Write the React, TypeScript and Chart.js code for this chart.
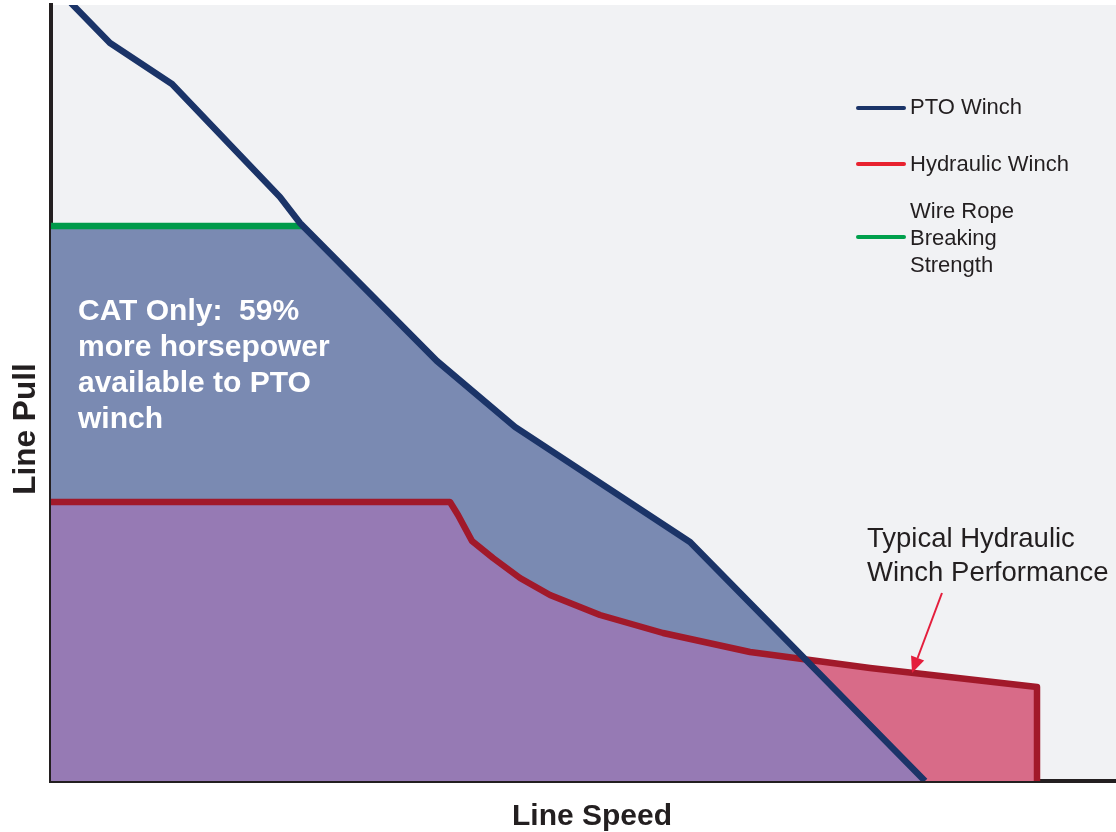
import React, { useEffect, useRef } from "react";
import { Chart, registerables } from "chart.js";

Chart.register(...registerables);

// ---- Data (x = line speed, y = line pull, arbitrary units) ----
const ptoWinch = [
  { x: 20, y: 778 },
  { x: 59, y: 738 },
  { x: 121, y: 697 },
  { x: 184, y: 631 },
  { x: 229, y: 584 },
  { x: 249, y: 558 },
  { x: 386, y: 420 },
  { x: 464, y: 354 },
  { x: 639, y: 239 },
  { x: 874, y: 0 },
];

const hydraulicWinch = [
  { x: 0, y: 279 },
  { x: 399, y: 279 },
  { x: 407, y: 266 },
  { x: 421, y: 240 },
  { x: 442, y: 223 },
  { x: 469, y: 203 },
  { x: 499, y: 186 },
  { x: 549, y: 166 },
  { x: 612, y: 148 },
  { x: 699, y: 129 },
  { x: 819, y: 113 },
  { x: 986, y: 94 },
  { x: 986, y: 0 },
];

const wireRopeBreaking = [
  { x: 0, y: 555 },
  { x: 252, y: 555 },
];

// where the PTO and hydraulic curves cross
const crossingPoint = { x: 754, y: 122 };

// arrow of the "Typical Hydraulic Winch Performance" note (data coords)
const arrowFrom = { x: 891, y: 188 };
const arrowTo = { x: 861, y: 108 };

const xRange = [0, 1065];
const yRange = [0, 776];

const seriesLabels = ["PTO Winch", "Hydraulic Winch", "Wire Rope Breaking Strength"];
const legendTextLines = [["PTO Winch"], ["Hydraulic Winch"], ["Wire Rope", "Breaking", "Strength"]];
const calloutLines = ["CAT Only:  59%", "more horsepower", "available to PTO", "winch"];
const noteLines = ["Typical Hydraulic", "Winch Performance"];
const xAxisTitle = "Line Speed";
const yAxisTitle = "Line Pull";

const COLORS = {
  bg: "#f1f2f4",
  navy: "#1b3468",
  red: "#a1192a",
  green: "#009a4a",
  blueFill: "#7a8ab2",
  purpleFill: "#967ab4",
  pinkFill: "#d86b88",
  text: "#231f20",
  legendRed: "#e8222f",
  legendGreen: "#00a04c",
  arrow: "#e41e3c",
};

const FONT = "'Liberation Sans', Arial, Helvetica, sans-serif";

const decorPlugin = {
  id: "decor",
  beforeDraw(chart: any) {
    const { ctx, chartArea } = chart;
    ctx.save();
    ctx.fillStyle = COLORS.bg;
    ctx.fillRect(chartArea.left, chartArea.top, chartArea.right - chartArea.left, chartArea.bottom - chartArea.top);
    ctx.restore();
  },
  afterDraw(chart: any) {
    const { ctx } = chart;
    const xs = chart.scales.x;
    const ys = chart.scales.y;
    ctx.save();

    // callout text
    ctx.fillStyle = "#ffffff";
    ctx.font = `bold 30px ${FONT}`;
    ctx.textAlign = "left";
    ctx.textBaseline = "alphabetic";
    calloutLines.forEach((t, i) => ctx.fillText(t, 78, 320 + i * 36));

    // legend
    const legendColors = [COLORS.navy, COLORS.legendRed, COLORS.legendGreen];
    const legendLineY = [108, 164, 237];
    const legendBaselines = [[114], [171], [218, 245, 272]];
    ctx.lineCap = "round";
    legendTextLines.forEach((lines, i) => {
      ctx.strokeStyle = legendColors[i];
      ctx.lineWidth = 4;
      ctx.beginPath();
      ctx.moveTo(858, legendLineY[i]);
      ctx.lineTo(904, legendLineY[i]);
      ctx.stroke();
      ctx.fillStyle = COLORS.text;
      ctx.font = `22px ${FONT}`;
      lines.forEach((t, j) => ctx.fillText(t, 910, legendBaselines[i][j]));
    });

    // note + arrow
    ctx.fillStyle = COLORS.text;
    ctx.font = `27.5px ${FONT}`;
    noteLines.forEach((t, i) => ctx.fillText(t, 867, 547 + i * 34));

    const fx = xs.getPixelForValue(arrowFrom.x);
    const fy = ys.getPixelForValue(arrowFrom.y);
    const tx = xs.getPixelForValue(arrowTo.x);
    const ty = ys.getPixelForValue(arrowTo.y);
    const ang = Math.atan2(ty - fy, tx - fx);
    const headLen = 16;
    const headHalf = 7;
    const bx = tx - headLen * Math.cos(ang);
    const by = ty - headLen * Math.sin(ang);
    ctx.strokeStyle = COLORS.arrow;
    ctx.lineWidth = 2;
    ctx.lineCap = "butt";
    ctx.beginPath();
    ctx.moveTo(fx, fy);
    ctx.lineTo(bx, by);
    ctx.stroke();
    ctx.fillStyle = COLORS.arrow;
    ctx.beginPath();
    ctx.moveTo(tx, ty);
    ctx.lineTo(bx + headHalf * Math.sin(ang), by - headHalf * Math.cos(ang));
    ctx.lineTo(bx - headHalf * Math.sin(ang), by + headHalf * Math.cos(ang));
    ctx.closePath();
    ctx.fill();

    // axis titles
    ctx.fillStyle = COLORS.text;
    ctx.font = `bold 30px ${FONT}`;
    ctx.textAlign = "center";
    ctx.fillText(xAxisTitle, 592, 825);
    ctx.save();
    ctx.translate(35, 429);
    ctx.rotate(-Math.PI / 2);
    ctx.font = `bold 31.5px ${FONT}`;
    ctx.fillText(yAxisTitle, 0, 0);
    ctx.restore();

    ctx.restore();
  },
};

export default function App() {
  const ref = useRef<HTMLCanvasElement | null>(null);

  useEffect(() => {
    if (!ref.current) return;
    const greenEnd = wireRopeBreaking[wireRopeBreaking.length - 1].x;
    const blueArea = [...wireRopeBreaking, ...ptoWinch.filter((p) => p.x > greenEnd)];
    const purpleArea = [
      ...hydraulicWinch.filter((p) => p.x < crossingPoint.x),
      crossingPoint,
      ...ptoWinch.filter((p) => p.x > crossingPoint.x),
    ];

    const lineBase = { pointRadius: 0, tension: 0, fill: false, clip: 0 };
    const areaBase = { pointRadius: 0, tension: 0, borderWidth: 0, fill: "origin", clip: 0 };

    const chart = new Chart(ref.current, {
      type: "line",
      data: {
        datasets: [
          { ...lineBase, label: seriesLabels[0], data: ptoWinch, borderColor: COLORS.navy, borderWidth: 6.5, order: 0 },
          { ...lineBase, label: seriesLabels[1], data: hydraulicWinch, borderColor: COLORS.red, borderWidth: 6.5, borderJoinStyle: "round", order: 1 },
          { ...lineBase, label: seriesLabels[2], data: wireRopeBreaking, borderColor: COLORS.green, borderWidth: 6.5, order: 2 },
          { ...areaBase, label: "overlap", data: purpleArea, backgroundColor: COLORS.purpleFill, borderColor: COLORS.purpleFill, order: 3 },
          { ...areaBase, label: "pto area", data: blueArea, backgroundColor: COLORS.blueFill, borderColor: COLORS.blueFill, order: 4 },
          { ...areaBase, label: "hydraulic area", data: hydraulicWinch, backgroundColor: COLORS.pinkFill, borderColor: COLORS.pinkFill, order: 5 },
        ] as any,
      },
      options: {
        responsive: false,
        animation: false,
        parsing: true,
        layout: { padding: { left: 51, top: 5, right: 0, bottom: 51 } },
        plugins: {
          legend: { display: false },
          tooltip: { enabled: false },
          title: { display: false },
        },
        scales: {
          x: {
            type: "linear",
            min: xRange[0],
            max: xRange[1],
            z: 1,
            ticks: { display: false },
            grid: { display: false, drawTicks: false },
            border: { display: true, width: 4, color: COLORS.text },
          },
          y: {
            type: "linear",
            min: yRange[0],
            max: yRange[1],
            z: 1,
            ticks: { display: false },
            grid: { display: false, drawTicks: false },
            border: { display: true, width: 4, color: COLORS.text },
          },
        },
      } as any,
      plugins: [decorPlugin],
    });
    return () => chart.destroy();
  }, []);

  return (
    <div style={{ position: "absolute", left: 0, top: 0, width: 1116, height: 832, background: "#ffffff" }}>
      <canvas ref={ref} width={1116} height={832} style={{ display: "block" }} />
    </div>
  );
}
